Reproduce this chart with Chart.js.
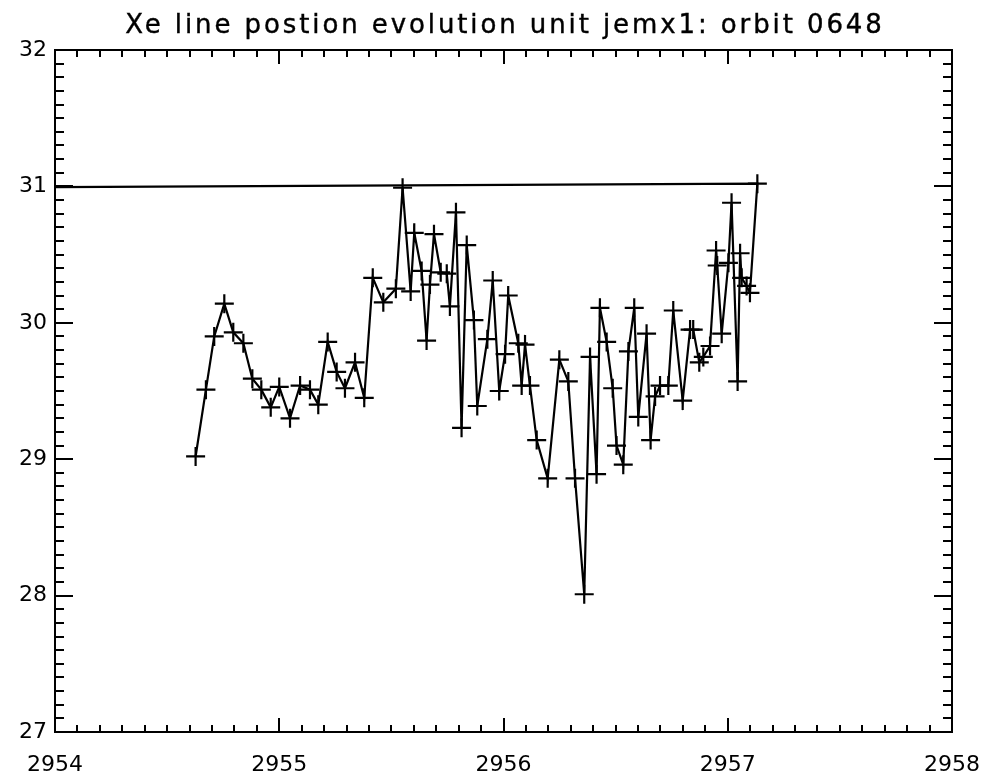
<!DOCTYPE html>
<html>
<head>
<meta charset="utf-8">
<script src="https://cdn.jsdelivr.net/npm/chart.js@4.4.1/dist/chart.umd.min.js"></script>
<style>
    html, body { margin: 0; padding: 0; background: #fff; }
    #wrap { position: relative; width: 987px; height: 773px; }
    #title {
        position: absolute; top: 9px; left: 0; width: 1010px; text-align: center;
        font: 26px "DejaVu Sans", sans-serif; letter-spacing: 2.9px; color: #000;
        -webkit-text-stroke: 0.4px #000;
    }
</style>
</head>
<body>
<div id="wrap">
    <div id="title">Xe line postion evolution unit jemx1: orbit 0648</div>
    <canvas id="xeChart" width="987" height="773"></canvas>
</div>
<script>
// time (orbit days) and fitted Xe line position, in the order they were taken
const xe_time = [
    2954.627, 2954.673, 2954.710, 2954.755, 2954.795, 2954.840, 2954.880, 2954.920, 2954.962, 2955.000,
    2955.048, 2955.093, 2955.137, 2955.174, 2955.216, 2955.256, 2955.293, 2955.338, 2955.379, 2955.417,
    2955.464, 2955.520, 2955.550, 2955.586, 2955.602, 2955.635, 2955.657, 2955.672, 2955.690, 2955.720,
    2955.747, 2955.761, 2955.788, 2955.813, 2955.836, 2955.868, 2955.883, 2955.928, 2955.952, 2955.981,
    2956.007, 2956.021, 2956.066, 2956.081, 2956.096, 2956.118, 2956.148, 2956.197, 2956.249, 2956.289,
    2956.319, 2956.360, 2956.386, 2956.415, 2956.430, 2956.460, 2956.487, 2956.504, 2956.534, 2956.557,
    2956.583, 2956.601, 2956.638, 2956.656, 2956.676, 2956.698, 2956.735, 2956.757, 2956.799, 2956.832,
    2956.846, 2956.873, 2956.891, 2956.921, 2956.948, 2956.953, 2956.973, 2957.003, 2957.017, 2957.044,
    2957.055, 2957.062, 2957.084, 2957.099, 2957.132, 2953.500
];
const xe_pos = [
    29.02, 29.51, 29.90, 30.14, 29.93, 29.85, 29.59, 29.51, 29.38, 29.53,
    29.30, 29.54, 29.51, 29.40, 29.86, 29.64, 29.52, 29.71, 29.45, 30.33,
    30.15, 30.25, 30.99, 30.23, 30.66, 30.38, 29.87, 30.28, 30.65, 30.37,
    30.36, 30.12, 30.81, 29.23, 30.57, 30.02, 29.39, 29.88, 30.31, 29.50,
    29.77, 30.20, 29.85, 29.54, 29.84, 29.54, 29.14, 28.86, 29.73, 29.57,
    28.86, 28.01, 29.75, 28.89, 30.11, 29.86, 29.52, 29.10, 28.96, 29.79,
    30.11, 29.31, 29.92, 29.14, 29.46, 29.54, 29.54, 30.09, 29.43, 29.95,
    29.95, 29.71, 29.75, 29.83, 30.53, 30.42, 29.92, 30.44, 30.88, 29.57,
    30.51, 30.33, 30.27, 30.22, 31.02, 30.99
];

const xe_xTicks = [2954, 2955, 2956, 2957, 2958];
const xe_yTicks = [27, 28, 29, 30, 31, 32];

const xe_points = xe_time.map((t, i) => ({ x: t, y: xe_pos[i] }));
const tickFont = { family: 'DejaVu Sans', size: 22 };

// box round the plot with inward minor/major ticks on all four sides
const xe_frame = {
    id: 'xe_frame',
    afterDatasetsDraw(chart) {
        const { ctx, chartArea: a, scales } = chart;
        ctx.save();
        ctx.strokeStyle = '#000';
        ctx.lineWidth = 2;
        ctx.strokeRect(a.left, a.top, a.right - a.left, a.bottom - a.top);
        ctx.beginPath();
        const x0 = xe_xTicks[0], xn = xe_xTicks[xe_xTicks.length - 1];
        for (let i = 0; i <= (xn - x0) * 10; i++) {
            const px = Math.round(scales.x.getPixelForValue(x0 + i / 10));
            const len = i % 10 === 0 ? 14 : 7;
            ctx.moveTo(px, a.bottom); ctx.lineTo(px, a.bottom - len);
            ctx.moveTo(px, a.top); ctx.lineTo(px, a.top + len);
        }
        const y0 = xe_yTicks[0], yn = xe_yTicks[xe_yTicks.length - 1];
        for (let i = 0; i <= (yn - y0) * 10; i++) {
            const py = Math.round(scales.y.getPixelForValue(y0 + i / 10));
            const len = i % 10 === 0 ? 18 : 9;
            ctx.moveTo(a.left, py); ctx.lineTo(a.left + len, py);
            ctx.moveTo(a.right, py); ctx.lineTo(a.right - len, py);
        }
        ctx.stroke();
        ctx.restore();
    }
};

new Chart(document.getElementById('xeChart'), {
    type: 'scatter',
    data: {
        datasets: [{
            data: xe_points,
            showLine: true,
            borderColor: '#000',
            borderWidth: 2.2,
            pointStyle: 'cross',
            pointRadius: 9.5,
            pointBorderWidth: 2.2,
            pointBorderColor: '#000',
            tension: 0
        }]
    },
    options: {
        responsive: false,
        animation: false,
        layout: { padding: { top: 50, right: 35, left: 0, bottom: 0 } },
        plugins: { legend: { display: false }, tooltip: { enabled: false } },
        scales: {
            x: {
                type: 'linear',
                min: xe_xTicks[0],
                max: xe_xTicks[xe_xTicks.length - 1],
                afterBuildTicks: s => { s.ticks = xe_xTicks.map(v => ({ value: v })); },
                afterFit: s => { s.height = 41; s.paddingLeft = 0; s.paddingRight = 0; },
                grid: { display: false, drawTicks: false },
                border: { display: false },
                ticks: { color: '#000', font: tickFont, padding: 20, maxRotation: 0, callback: v => String(v) }
            },
            y: {
                min: xe_yTicks[0],
                max: xe_yTicks[xe_yTicks.length - 1],
                afterBuildTicks: s => { s.ticks = xe_yTicks.map(v => ({ value: v })); },
                afterFit: s => { s.width = 55; s.paddingTop = 0; s.paddingBottom = 0; },
                grid: { display: false, drawTicks: false },
                border: { display: false },
                ticks: { color: '#000', font: tickFont, padding: 8, callback: v => String(v) }
            }
        }
    },
    plugins: [xe_frame]
});
</script>
</body>
</html>
